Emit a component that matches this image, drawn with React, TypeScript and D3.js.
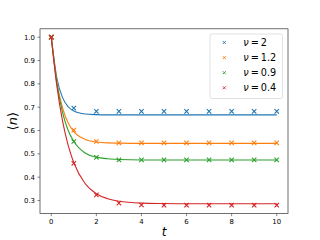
import * as d3 from 'd3';

const COLORS = ['#1f77b4', '#ff7f0e', '#2ca02c', '#d62728'];
const NU_LABELS = ['2', '1.2', '0.9', '0.4'];

// sampled observations at integer t
const T_POINTS = [0, 1, 2, 3, 4, 5, 6, 7, 8, 9, 10];
const POINTS_NU2 = [1.0, 0.696, 0.682, 0.682, 0.682, 0.682, 0.682, 0.682, 0.682, 0.682, 0.682];
const POINTS_NU12 = [1.0, 0.602, 0.553, 0.547, 0.547, 0.547, 0.547, 0.547, 0.547, 0.547, 0.547];
const POINTS_NU09 = [1.0, 0.553, 0.485, 0.474, 0.474, 0.474, 0.474, 0.474, 0.474, 0.474, 0.474];
const POINTS_NU04 = [1.0, 0.459, 0.324, 0.289, 0.281, 0.28, 0.28, 0.28, 0.28, 0.28, 0.28];

// fitted curves
const T_CURVE = [0, 0.25, 0.5, 0.75, 1, 1.5, 2, 2.5, 3, 4, 5, 6, 8, 10];
const CURVE_NU2 = [1.0, 0.824, 0.741, 0.702, 0.684, 0.671, 0.668, 0.667, 0.667, 0.667, 0.667, 0.667, 0.667, 0.667];
const CURVE_NU12 = [1.0, 0.808, 0.697, 0.632, 0.595, 0.562, 0.551, 0.547, 0.546, 0.545, 0.545, 0.545, 0.545, 0.545];
const CURVE_NU09 = [1.0, 0.801, 0.678, 0.6, 0.553, 0.504, 0.486, 0.479, 0.476, 0.474, 0.474, 0.474, 0.474, 0.474];
const CURVE_NU04 = [1.0, 0.789, 0.641, 0.536, 0.462, 0.373, 0.329, 0.308, 0.297, 0.289, 0.287, 0.286, 0.286, 0.286];

const X_TICKS = [0, 2, 4, 6, 8, 10];
const Y_TICKS = [0.3, 0.4, 0.5, 0.6, 0.7, 0.8, 0.9, 1.0];

const POINTS = [POINTS_NU2, POINTS_NU12, POINTS_NU09, POINTS_NU04];
const CURVES = [CURVE_NU2, CURVE_NU12, CURVE_NU09, CURVE_NU04];

const W = 320;
const H = 240;
const margin = { left: 40, right: 32, top: 28.8, bottom: 26.4 };
const FONT = 'DejaVu Sans, sans-serif';

export default function App() {
  const x = d3.scaleLinear().domain([-0.5, 10.5]).range([margin.left, W - margin.right]);
  const y = d3.scaleLinear().domain([0.244, 1.036]).range([H - margin.bottom, margin.top]);

  const line = d3.line<[number, number]>()
    .x((d) => x(d[0]))
    .y((d) => y(d[1]))
    .curve(d3.curveMonotoneX);

  const cross = (cx: number, cy: number, c: string, k: string, ms = 2.2, sw = 1.1) => (
    <path key={k} d={`M${cx - ms},${cy - ms}L${cx + ms},${cy + ms}M${cx - ms},${cy + ms}L${cx + ms},${cy - ms}`}
      stroke={c} strokeWidth={sw} fill="none" />
  );

  const x0 = margin.left;
  const x1 = W - margin.right;
  const y0 = H - margin.bottom;
  const y1 = margin.top;

  return (
    <div style={{ position: 'fixed', left: 0, top: 0 }}>
      <svg width={W} height={H} style={{ display: 'block', background: '#fff' }} fontFamily={FONT}>
        {CURVES.map((c, i) => (
          <g key={i}>
            <path d={line(T_CURVE.map((t, j) => [t, c[j]] as [number, number])) ?? ''}
              stroke={COLORS[i]} strokeWidth={1.1} fill="none" />
            {T_POINTS.map((t, j) => cross(x(t), y(POINTS[i][j]), COLORS[i], `${i}-${j}`))}
          </g>
        ))}

        <rect x={x0} y={y1} width={x1 - x0} height={y0 - y1} fill="none" stroke="#333" strokeWidth={0.7} />

        {X_TICKS.map((t) => (
          <g key={t}>
            <line x1={x(t)} x2={x(t)} y1={y0} y2={y0 + 2.5} stroke="#333" strokeWidth={0.6} />
            <text x={x(t)} y={y0 + 10} fontSize={6.9} textAnchor="middle" fill="#000">{t}</text>
          </g>
        ))}
        {Y_TICKS.map((t) => (
          <g key={t}>
            <line x1={x0 - 2.5} x2={x0} y1={y(t)} y2={y(t)} stroke="#333" strokeWidth={0.6} />
            <text x={x0 - 5} y={y(t) + 2.4} fontSize={6.9} textAnchor="end" fill="#000">{t.toFixed(1)}</text>
          </g>
        ))}

        <text x={(x0 + x1) / 2} y={236} fontSize={12} textAnchor="middle" fontStyle="italic" fill="#000">t</text>
        <text transform={`translate(16.5,${(y0 + y1) / 2}) rotate(-90)`} fontSize={13} textAnchor="middle" fill="#000">
          ⟨<tspan fontStyle="italic">n</tspan>⟩
        </text>

        <g>
          <rect x={210} y={34} width={72.5} height={64.5} rx={2} fill="#fff" fillOpacity={0.8} stroke="#d6d6d6" strokeWidth={0.7} />
          {NU_LABELS.map((lab, i) => {
            const ry = 42.5 + i * 15.1;
            return (
              <g key={lab}>
                {cross(224.3, ry, COLORS[i], `leg-${i}`, 1.5, 0.9)}
                <text x={243.3} y={ry + 3.5} fontSize={9.7} fill="#000">
                  <tspan fontStyle="italic">ν</tspan>{'\u2009=\u2009'}{lab}
                </text>
              </g>
            );
          })}
        </g>
      </svg>
    </div>
  );
}
